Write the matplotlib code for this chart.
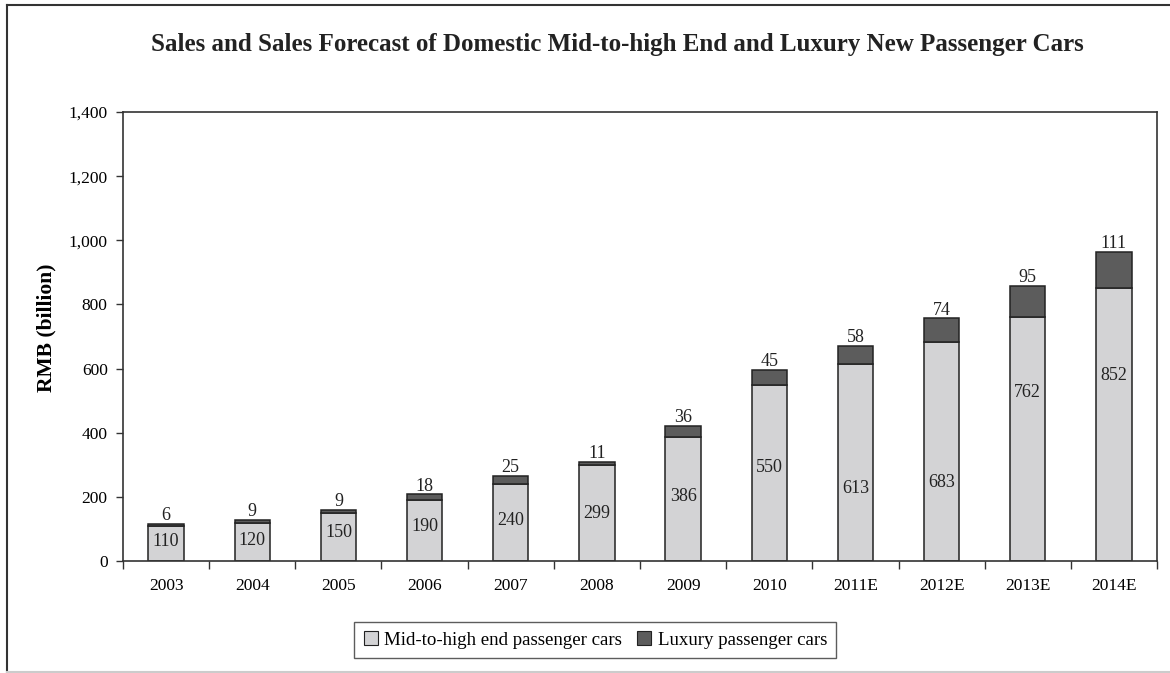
import matplotlib
matplotlib.use("Agg")
import matplotlib.pyplot as plt
import numpy as np
from matplotlib.lines import Line2D

plt.rcParams['font.family'] = ['Liberation Serif', 'DejaVu Serif']

years = ["2003", "2004", "2005", "2006", "2007", "2008", "2009", "2010",
         "2011E", "2012E", "2013E", "2014E"]
mid_high = [110, 120, 150, 190, 240, 299, 386, 550, 613, 683, 762, 852]
luxury = [6, 9, 9, 18, 25, 11, 36, 45, 58, 74, 95, 111]
series_names = ["Mid-to-high end passenger cars", "Luxury passenger cars"]
title = "Sales and Sales Forecast of Domestic Mid-to-high End and Luxury New Passenger Cars"
ylabel = "RMB (billion)"
yticks = [0, 200, 400, 600, 800, 1000, 1200, 1400]

# layout: relative vertical placement of the inner labels within each bar
label_frac = [0.54, 0.52, 0.6, 0.57, 0.53, 0.5, 0.52, 0.53, 0.37, 0.36, 0.69, 0.68]

fig = plt.figure(figsize=(11.7, 6.73), dpi=100)
ax = fig.add_axes([123/1170, 1 - 561/673, (1157-123)/1170, (561-112)/673])

x = np.arange(len(years))
w = 0.41
c_mid = "#d3d3d5"
c_lux = "#5c5c5c"
edge = "#222222"
ax.bar(x, mid_high, w, color=c_mid, edgecolor=edge, linewidth=1.1, label=series_names[0])
ax.bar(x, luxury, w, bottom=mid_high, color=c_lux, edgecolor=edge, linewidth=1.1, label=series_names[1])

for i in range(len(years)):
    ax.text(x[i], mid_high[i] * label_frac[i], str(mid_high[i]),
            ha="center", va="center", fontsize=13, color="#222222")
    ax.text(x[i], mid_high[i] + luxury[i] - 1, str(luxury[i]),
            ha="center", va="bottom", fontsize=13, color="#222222")

ax.set_xlim(-0.5, len(years) - 0.5)
ax.set_ylim(0, 1400)
ax.set_yticks(yticks)
ax.set_yticklabels([f"{v:,}" for v in yticks], fontsize=12.5)
ax.set_xticks(x)
ax.set_xticklabels(years, fontsize=12.5)
ax.tick_params(axis="x", length=0, pad=12)
ax.set_xticks(np.arange(len(years) + 1) - 0.5, minor=True)
ax.tick_params(axis="x", which="minor", length=6, width=1.0, color="#333333")
ax.tick_params(axis="y", length=5, width=1.0, color="#333333", pad=6)
for s in ax.spines.values():
    s.set_color("#333333")
    s.set_linewidth(1.2)

ax.set_ylabel(ylabel, fontsize=15.5, fontweight="bold")
ax.yaxis.set_label_coords(-(123 - 56) / (1157 - 123), 0.52)
fig.text(617/1170, 1 - 45/673, title, ha="center", va="center", fontsize=18, fontweight="bold", color="#222222")

handles = [Line2D([0], [0], marker="s", linestyle="none", markersize=10,
                  markerfacecolor=c_mid, markeredgecolor=edge, markeredgewidth=0.8),
           Line2D([0], [0], marker="s", linestyle="none", markersize=10,
                  markerfacecolor=c_lux, markeredgecolor=edge, markeredgewidth=0.8)]
leg = fig.legend(handles, series_names, loc="center", bbox_to_anchor=(595/1170, 1 - 640/673),
                 ncol=2, fontsize=13.6, frameon=True, fancybox=False, edgecolor="#333333",
                 handlelength=0.8, handletextpad=0.3, columnspacing=0.8, borderpad=0.5)
leg.get_frame().set_linewidth(1.0)

# outer frame
fig.add_artist(Line2D([7/1170, 7/1170], [0, 1 - 5/673], transform=fig.transFigure, color="#333333", lw=1.5))
fig.add_artist(Line2D([7/1170, 1], [1 - 5/673, 1 - 5/673], transform=fig.transFigure, color="#333333", lw=1.5))
fig.add_artist(Line2D([7/1170, 1], [1/673, 1/673], transform=fig.transFigure, color="#cccccc", lw=1.5))

fig.savefig("out.png", dpi=100)
